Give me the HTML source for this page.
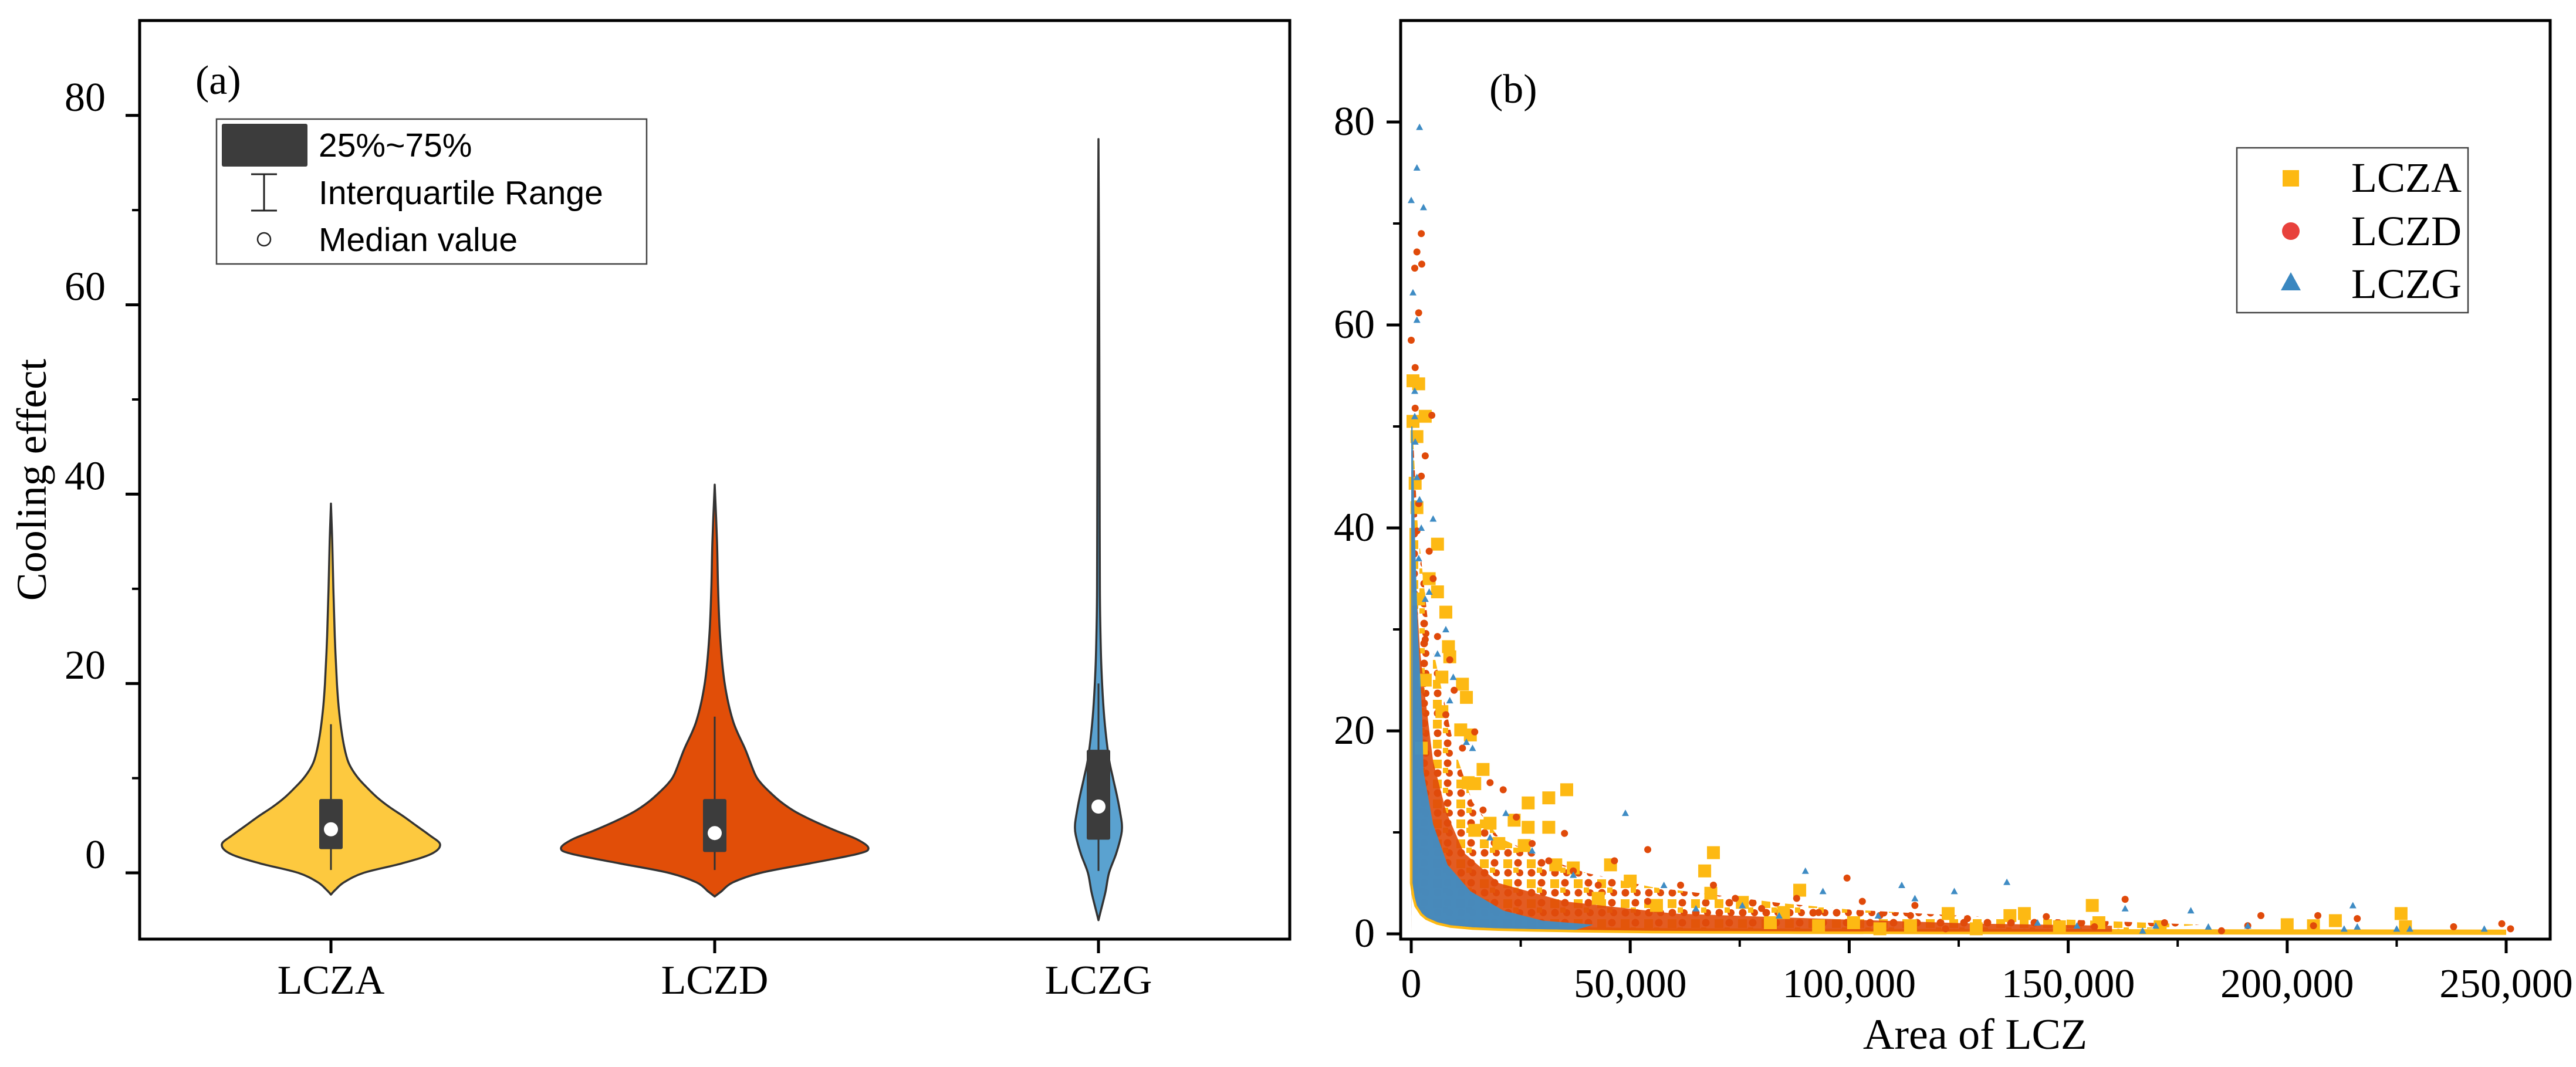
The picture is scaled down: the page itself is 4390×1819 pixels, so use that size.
<!DOCTYPE html>
<html><head><meta charset="utf-8">
<style>
html,body{margin:0;padding:0;background:#fff;}
svg{display:block;}
text{font-family:"Liberation Serif","Times New Roman",serif;fill:#000;}
.sans{font-family:"Liberation Sans",Arial,sans-serif;}
</style></head>
<body>
<svg id="fig" width="4390" height="1819" viewBox="0 0 4390 1819" xmlns="http://www.w3.org/2000/svg">
  <defs>
    <pattern id="mixPat" patternUnits="userSpaceOnUse" width="40" height="34">
      <rect x="2" y="3" width="15" height="15" fill="#FDB913"/>
      <circle cx="27" cy="9" r="6.5" fill="#E04A0A"/>
      <circle cx="10" cy="26" r="6.5" fill="#E04A0A"/>
      <circle cx="30" cy="26" r="6" fill="#E04A0A"/>
      <rect x="19" y="17" width="9" height="9" fill="#FDB913"/>
    </pattern>
  </defs>
  <rect x="0" y="0" width="4390" height="1819" fill="#fff"/>
  <g id="panelA"></g>
  <g id="panelB"></g>
</svg>
<script>
// ---------- Panel A data ----------
const violinCategories = ["LCZA", "LCZD", "LCZG"];
const violinColors = ["#FDC93F", "#E14E08", "#5AA2D0"];
const lczaLevels = [-2.3,-1.8,-1,0,1,2,3,4,5,6,7,8,9,10,11,12,14,17,20,25,30,35,39];
const lczaDensity = [0,0.04,0.12,0.3,0.65,0.92,1.0,0.9,0.78,0.66,0.53,0.42,0.33,0.25,0.19,0.15,0.11,0.075,0.055,0.035,0.022,0.012,0];
const lczdLevels = [-2.5,-2,-1,0,1,2,2.6,3.5,4.5,5.5,6.5,7.5,8.5,9.5,10.5,13,16,20,25,30,35,41];
const lczdDensity = [0,0.04,0.12,0.3,0.62,0.93,1.0,0.93,0.78,0.64,0.52,0.43,0.36,0.3,0.26,0.2,0.12,0.065,0.035,0.022,0.015,0];
const lczgLevels = [-5,-4,-2,0,2,4,5,6,8,10,12,15,18,22,26,30,40,50,60,77.5];
const lczgDensity = [0,0.1,0.3,0.45,0.75,0.97,1.0,0.95,0.8,0.62,0.45,0.3,0.2,0.12,0.08,0.06,0.05,0.04,0.03,0];
const violinMaxHalfWidth = [186, 262, 40];
const boxQ1 = [2.5, 2.2, 3.5];
const boxQ3 = [7.8, 7.8, 13.0];
const boxMedian = [4.6, 4.2, 7.0];
const whiskerLow = [0.3, 0.3, 0.2];
const whiskerHigh = [15.7, 16.5, 20];
const yTicksA = [0, 20, 40, 60, 80];
const yMinorA = [10, 30, 50, 70];

// ---------- Panel B data ----------
const xTicksB = [0, 50000, 100000, 150000, 200000, 250000];
const xTickLabelsB = ["0", "50,000", "100,000", "150,000", "200,000", "250,000"];
const xMinorB = [25000, 75000, 125000, 175000, 225000];
const yTicksB = [0, 20, 40, 60, 80];
const yMinorB = [10, 30, 50, 70];
// lower envelope of all points (yellow edge)
const edgeX = [200, 300, 800, 1300, 2500, 3600, 6000, 9000, 14000, 20000, 28000, 37600, 55000, 70000, 88000, 120000, 160000, 200000, 250000];
const edgeY = [40, 5, 3.6, 2.8, 2.0, 1.6, 1.15, 0.85, 0.65, 0.55, 0.47, 0.4, 0.3, 0.27, 0.25, 0.22, 0.2, 0.18, 0.16];
// speckled LCZA/LCZD mixed cloud upper envelope
const mixCloudX = [300, 1500, 4000, 7000, 10000, 14000, 20000, 30000, 40000, 55000, 70000, 85000, 100000, 125000, 150000, 180000];
const mixCloudY = [50, 40, 30, 24, 18, 13, 9.5, 7.5, 6.0, 4.6, 3.8, 3.0, 2.4, 1.8, 1.4, 0.9];
// dense LCZD band upper envelope
const redBandX = [300, 1000, 2000, 3000, 5000, 8000, 12000, 20000, 35000, 60000, 100000, 130000, 160000];
const redBandY = [45, 35, 28, 24, 17, 12, 8, 5, 3.2, 2.0, 1.4, 1.0, 0.8];
// dense LCZG core upper envelope
const blueCoreX = [300, 800, 1500, 2500, 2800, 5000, 8300, 13500, 21000, 30000, 41600];
const blueCoreY = [50, 40, 30, 21.4, 16, 10.8, 6.8, 4.2, 2.3, 1.3, 0.9];

const lczgX = [1900,1300,0,2800,400,1300,800,900,1900,5000,2300,4100,7900,9600,14000,21600,48900,90000,94000,112000,115000,124000,136000,163000,178000,215000,216000,167000,170000,182000,225000,228000,245000,152000,143000,191000,213000,65000,75600,57700,27600,37000,106600,84000,18000,12600,8800,6000,3200,1700,1300,800];
const lczgY = [79.5,75.5,72.3,71.6,63.2,60.5,53.5,48.5,42.8,40.9,40,33.7,30,25.3,18.3,11.9,11.9,6.2,4.2,4.8,3.5,4.2,5.1,2.5,2.3,2.8,0.7,0.3,0.8,0.7,0.5,0.5,0.5,0.8,1.1,0.8,0.5,2.5,2.8,4.8,8.2,5.8,1.8,1.8,9.5,18.9,23,27.6,33,37,45,51];
const lczdX = [2300,1300,800,2400,0,1700,900,4700,3200,2300,1700,4100,5000,6000,8800,9800,14500,21000,16400,35000,54000,27600,31400,46400,99500,61500,88000,103000,115000,163000,194000,207000,216000,238000,249000,251000,206000,191000,185000,172000,156000,145000,137000,127000,122000,114000,107000,93000,80000,74000,69000,54000,42700,37000,24000,18000,11700,7900,3200,1300,900];
const lczdY = [69,67.2,65.6,66,58.5,61.2,55.8,51.1,47.1,45.1,42.4,37.7,35,29.3,27,24,19.9,14.2,12.2,9.9,8.3,8.9,7.2,7.2,5.5,4.8,3.5,3.2,2.8,3.4,1.8,1.8,1.5,0.7,1.0,0.5,0.8,0.8,0.3,1.1,0.7,1.7,1.1,1.5,0.5,1.8,1.8,2.1,2.5,3.5,4.8,3.2,4.8,6.2,11.5,14.9,18.3,21.6,29,39.7,51.8];
const lczaX = [400,1700,400,3200,1300,900,1300,6000,4100,6000,1700,8500,8800,7000,11700,12600,7000,11300,13500,13000,14500,35500,31400,26700,23500,31400,26700,14500,20000,25800,69000,67000,45500,37000,33000,50000,88700,68400,75600,85000,101000,122600,136700,140000,155500,157000,148000,171000,200000,206000,211000,226000,227000,114000,107000,129000,56000,42700,18000,16400,7900,3200,2300,82000,93000];
const lczaY = [54.5,54.2,50.5,51,49,44.4,42,38.4,35,33.7,33,28.3,27.3,25.3,24.6,23.3,21.9,20.1,19.6,14.9,14.8,14.2,13.4,12.9,11.2,10.5,10.5,10.2,8.9,8.7,8.0,6.2,6.8,6.5,6.8,5.2,4.3,4.0,3.1,2.1,1.1,2.0,1.8,2.0,2.8,1.1,0.7,0.7,0.9,0.8,1.3,2.0,0.7,0.8,0.5,0.5,2.8,3.5,10.9,16.2,31.7,25,18.3,1.1,0.8];

const NS = "http://www.w3.org/2000/svg";
function mk(parent, tag, attrs, txt) {
  const el = document.createElementNS(NS, tag);
  for (const k in attrs) el.setAttribute(k, attrs[k]);
  if (txt !== undefined) el.textContent = txt;
  parent.appendChild(el);
  return el;
}

// ---------- Panel A ----------
const A = document.getElementById('panelA');
const aL = 238, aR = 2198, aT = 35, aB = 1601;
const aY0 = 1488, aPx = 16.14;
const ayS = v => aY0 - v * aPx;
const catX = [564, 1218, 1872];
const axS = i => catX[i];

function smoothPath(pts) {
  let d = "M" + pts[0][0].toFixed(1) + "," + pts[0][1].toFixed(1);
  for (let i = 0; i < pts.length - 1; i++) {
    const p0 = pts[i - 1] || pts[i], p1 = pts[i], p2 = pts[i + 1], p3 = pts[i + 2] || p2;
    const c1x = p1[0] + (p2[0] - p0[0]) / 6, c1y = p1[1] + (p2[1] - p0[1]) / 6;
    const c2x = p2[0] - (p3[0] - p1[0]) / 6, c2y = p2[1] - (p3[1] - p1[1]) / 6;
    d += " C" + c1x.toFixed(1) + "," + c1y.toFixed(1) + " " + c2x.toFixed(1) + "," + c2y.toFixed(1) + " " + p2[0].toFixed(1) + "," + p2[1].toFixed(1);
  }
  return d;
}
const levelsAll = [lczaLevels, lczdLevels, lczgLevels];
const densAll = [lczaDensity, lczdDensity, lczgDensity];
for (let i = 0; i < 3; i++) {
  const cx = axS(i), lv = levelsAll[i], dn = densAll[i], mh = violinMaxHalfWidth[i];
  const right = lv.map((v, k) => [cx + dn[k] * mh, ayS(v)]);
  const left = lv.map((v, k) => [cx - dn[k] * mh, ayS(v)]).reverse();
  const d = smoothPath(right) + " L" + smoothPath(left).slice(1) + " Z";
  const vp = mk(A, 'path', {d: d, fill: violinColors[i], stroke: '#333', 'stroke-width': 3.5, 'stroke-linejoin': 'round'});
  
  
  const wl = mk(A, 'line', {x1: cx, x2: cx, y1: ayS(whiskerLow[i]), y2: ayS(whiskerHigh[i]), stroke: '#333', 'stroke-width': 3});
  
  
  const bx = mk(A, 'rect', {x: cx - 20, y: ayS(boxQ3[i]), width: 40, height: ayS(boxQ1[i]) - ayS(boxQ3[i]), fill: '#3c3c3c', rx: 3});
  
  
  const md = mk(A, 'circle', {cx: cx, cy: ayS(boxMedian[i]), r: 12, fill: '#fff'});
  
  
}
const fA = mk(A, 'rect', {x: aL, y: aT, width: aR - aL, height: aB - aT, fill: 'none', stroke: '#000', 'stroke-width': 5});


yTicksA.forEach(v => {
  const t = mk(A, 'line', {x1: aL - 24, x2: aL, y1: ayS(v), y2: ayS(v), stroke: '#000', 'stroke-width': 5});
  
  
  const l = mk(A, 'text', {x: 180, y: ayS(v) - 8, 'text-anchor': 'end', 'font-size': 70}, String(v));
  
  
});
yMinorA.forEach(v => {
  const t = mk(A, 'line', {x1: aL - 13, x2: aL, y1: ayS(v), y2: ayS(v), stroke: '#000', 'stroke-width': 4});
  
  
});
violinCategories.forEach((c, i) => {
  const t = mk(A, 'line', {x1: axS(i), x2: axS(i), y1: aB, y2: aB + 24, stroke: '#000', 'stroke-width': 5});
  
  
  const l = mk(A, 'text', {x: axS(i), y: 1694, 'text-anchor': 'middle', 'font-size': 70}, c);
  
  
});
const yt = mk(A, 'text', {x: 0, y: 0, 'text-anchor': 'middle', 'font-size': 72, transform: 'translate(78,818) rotate(-90)'}, 'Cooling effect');


const pa = mk(A, 'text', {x: 333, y: 160, 'font-size': 70}, '(a)');


const lgA = mk(A, 'g', {});


mk(lgA, 'rect', {x: 369, y: 203, width: 733, height: 247, fill: '#fff', stroke: '#444', 'stroke-width': 2.5});
mk(lgA, 'rect', {x: 378, y: 211, width: 146, height: 73, fill: '#3c3c3c', rx: 3});
mk(lgA, 'line', {x1: 450, x2: 450, y1: 297, y2: 359, stroke: '#222', 'stroke-width': 3});
mk(lgA, 'line', {x1: 428, x2: 472, y1: 297, y2: 297, stroke: '#222', 'stroke-width': 3});
mk(lgA, 'line', {x1: 428, x2: 472, y1: 359, y2: 359, stroke: '#222', 'stroke-width': 3});
mk(lgA, 'circle', {cx: 450, cy: 408, r: 11, fill: '#fff', stroke: '#222', 'stroke-width': 2.5});
const lt1 = mk(lgA, 'text', {x: 543, y: 267, 'font-size': 57, class: 'sans'}, '25%~75%');


const lt2 = mk(lgA, 'text', {x: 543, y: 348, 'font-size': 57, class: 'sans'}, 'Interquartile Range');


const lt3 = mk(lgA, 'text', {x: 543, y: 428, 'font-size': 57, class: 'sans'}, 'Median value');



// ---------- Panel B ----------
const B = document.getElementById('panelB');
const bL = 2387, bR = 4346, bT = 35, bB = 1601;
const bX0 = 2405, bXPx = 1866 / 250000;
const bY0 = 1592, bYPx = 17.3;
const bxS = v => bX0 + v * bXPx;
const byS = v => bY0 - v * bYPx;
const cYel = '#FDB913', cRed = '#E04A0A', cBlue = '#3F8CC4';

function envelopePath(xs, ys) {
  let d = "M" + bxS(0) + "," + byS(ys[0]);
  xs.forEach((x, k) => { d += " L" + bxS(x).toFixed(1) + "," + byS(ys[k]).toFixed(1); });
  for (let k = edgeX.length - 1; k >= 0; k--) {
    if (edgeX[k] <= xs[xs.length - 1]) d += " L" + bxS(edgeX[k]).toFixed(1) + "," + byS(edgeY[k]).toFixed(1);
  }
  d += " L" + bxS(0) + "," + byS(0) + " Z";
  return d;
}
const mixCloud = mk(B, 'path', {d: envelopePath(mixCloudX, mixCloudY), fill: 'url(#mixPat)'});


const yelEdge = mk(B, 'path', {d: (() => { let d = ""; edgeX.forEach((x, k) => { d += (k ? " L" : "M") + bxS(x).toFixed(1) + "," + byS(edgeY[k]).toFixed(1); }); return d; })(), fill: 'none', stroke: cYel, 'stroke-width': 9});


const redBand = mk(B, 'path', {d: envelopePath(redBandX, redBandY), fill: cRed, opacity: 0.9});



function drawSquares(xs, ys, name) {
  xs.forEach((x, k) => {
    const r = mk(B, 'rect', {x: bxS(x) - 11, y: byS(ys[k]) - 11, width: 22, height: 22, fill: cYel});
    
    
  });
}
function drawCircles(xs, ys, name) {
  xs.forEach((x, k) => {
    const c = mk(B, 'circle', {cx: bxS(x), cy: byS(ys[k]), r: 6, fill: cRed});
    
    
  });
}
function drawTriangles(xs, ys, name) {
  xs.forEach((x, k) => {
    const cx = bxS(x), cy = byS(ys[k]);
    const t = mk(B, 'polygon', {points: (cx) + "," + (cy - 6) + " " + (cx - 6) + "," + (cy + 5) + " " + (cx + 6) + "," + (cy + 5), fill: cBlue});
    
    
  });
}
drawSquares(lczaX, lczaY, 'point-lcza');
drawCircles(lczdX, lczdY, 'point-lczd');
const blueCore = mk(B, 'path', {d: envelopePath(blueCoreX, blueCoreY), fill: cBlue, opacity: 0.95});


drawTriangles(lczgX, lczgY, 'point-lczg');

const fB = mk(B, 'rect', {x: bL, y: bT, width: bR - bL, height: bB - bT, fill: 'none', stroke: '#000', 'stroke-width': 5});


yTicksB.forEach(v => {
  const t = mk(B, 'line', {x1: bL - 24, x2: bL, y1: byS(v), y2: byS(v), stroke: '#000', 'stroke-width': 5});
  
  
  const l = mk(B, 'text', {x: 2343, y: byS(v) + 22, 'text-anchor': 'end', 'font-size': 70}, String(v));
  
  
});
yMinorB.forEach(v => {
  const t = mk(B, 'line', {x1: bL - 13, x2: bL, y1: byS(v), y2: byS(v), stroke: '#000', 'stroke-width': 4});
  
  
});
xTicksB.forEach((v, k) => {
  const t = mk(B, 'line', {x1: bxS(v), x2: bxS(v), y1: bB, y2: bB + 24, stroke: '#000', 'stroke-width': 5});
  
  
  const l = mk(B, 'text', {x: bxS(v), y: 1700, 'text-anchor': 'middle', 'font-size': 70}, xTickLabelsB[k]);
  
  
});
xMinorB.forEach(v => {
  const t = mk(B, 'line', {x1: bxS(v), x2: bxS(v), y1: bB, y2: bB + 13, stroke: '#000', 'stroke-width': 4});
  
  
});
const xt = mk(B, 'text', {x: 3366, y: 1788, 'text-anchor': 'middle', 'font-size': 74}, 'Area of LCZ');


const pb = mk(B, 'text', {x: 2538, y: 175, 'font-size': 70}, '(b)');


const lgB = mk(B, 'g', {});


mk(lgB, 'rect', {x: 3812, y: 252, width: 394, height: 281, fill: '#fff', stroke: '#444', 'stroke-width': 2.5});
mk(lgB, 'rect', {x: 3890, y: 290, width: 28, height: 28, fill: cYel});
mk(lgB, 'circle', {cx: 3904, cy: 394, r: 15, fill: '#E8413C'});
mk(lgB, 'polygon', {points: "3904,464 3887,495 3921,495", fill: '#3A87C0'});
const lb1 = mk(lgB, 'text', {x: 4007, y: 327, 'font-size': 72}, 'LCZA');


const lb2 = mk(lgB, 'text', {x: 4007, y: 418, 'font-size': 72}, 'LCZD');


const lb3 = mk(lgB, 'text', {x: 4007, y: 508, 'font-size': 72}, 'LCZG');


</script>
</body></html>
